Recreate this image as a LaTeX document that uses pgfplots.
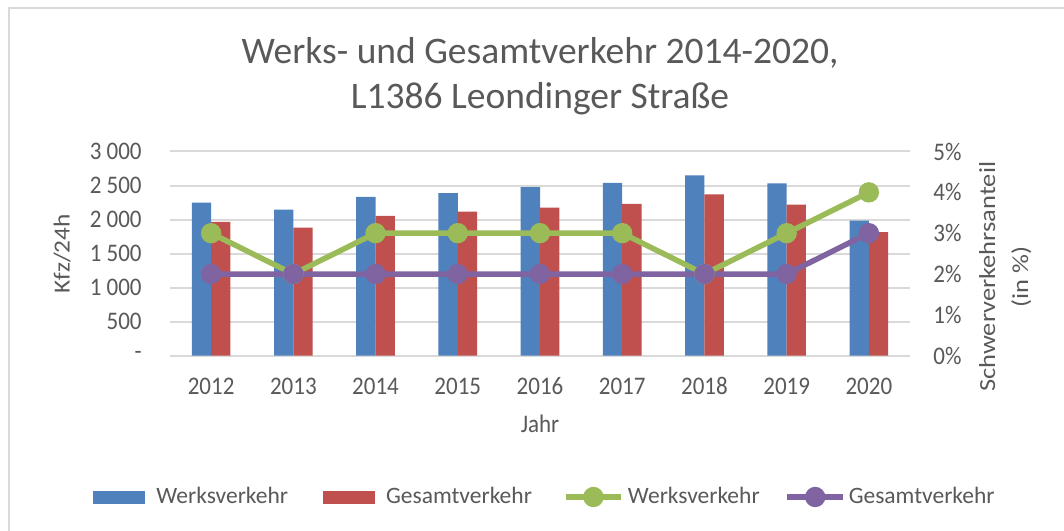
\documentclass[border=0pt]{standalone}
\usepackage{graphicx}
\usepackage{pgfplots}
\usepackage{pgfplotstable}
\pgfplotsset{compat=1.18}
\usepackage{fontspec}
\setmainfont{Carlito}
\definecolor{cblue}{HTML}{4F81BD}
\definecolor{cred}{HTML}{C0504D}
\definecolor{cgreen}{HTML}{9BBB59}
\definecolor{cpurple}{HTML}{8064A2}
\definecolor{cgrid}{HTML}{D9D9D9}
\definecolor{ctext}{HTML}{595959}
\newcommand\vs[1]{\scalebox{1}[1.1]{#1}}
\newcommand\hs[1]{\scalebox{1.1}[1]{#1}}
\pgfplotsset{
  barleg/.style={legend image code/.code={\fill[##1] (0pt,-3.25pt) rectangle (26pt,3.25pt);}},
  lineleg/.style={legend image code/.code={\draw[mark repeat=2, mark phase=2, ##1] plot coordinates {(0pt,0pt) (13.9pt,0pt) (27.8pt,0pt)};}},
}

\pgfplotstableread{
x werk gesamt
0 2250 1965
1 2145 1880
2 2335 2055
3 2390 2115
4 2475 2175
5 2540 2230
6 2650 2370
7 2530 2220
8 1985 1815
}\kfz
\pgfplotstableread{
x werk gesamt
0 3 2
1 2 2
2 3 2
3 3 2
4 3 2
5 3 2
6 2 2
7 3 2
8 4 3
}\anteil

\begin{document}
\begin{tikzpicture}[every node/.style={text=ctext}]
\useasboundingbox (0,0) rectangle (532pt,265pt);
\fill[white] (0,0) rectangle (532pt,265pt);
\draw[cgrid, line width=1pt] (4.5pt,-2pt) -- (4.5pt,261pt) -- (534pt,261pt);
\node[anchor=base, font=\fontsize{18.75}{22}\selectfont] at (270pt,233.35pt) {Werks- und Gesamtverkehr 2014-2020,};
\node[anchor=base, font=\fontsize{18.75}{22}\selectfont] at (270pt,210.5pt) {L1386 Leondinger Straße};
\begin{axis}[
  at={(85pt,87.15pt)}, anchor=south west, scale only axis,
  width=370pt, height=102.1pt,
  xmin=-0.5, xmax=8.5, ymin=0, ymax=3000,
  xtick={0,...,8},
  xticklabels={\vs{2012},\vs{2013},\vs{2014},\vs{2015},\vs{2016},\vs{2017},\vs{2018},\vs{2019},\vs{2020}},
  ytick={0,500,...,3000},
  yticklabels={\vs{-}\hspace{4pt},\vs{500},\vs{1 000},\vs{1 500},\vs{2 000},\vs{2 500},\vs{3 000}},
  ymajorgrids, grid style={cgrid, line width=1pt},
  axis line style={draw=none}, tick style={draw=none}, major tick length=0pt,
  xticklabel shift=0pt, yticklabel shift=0pt,
  tick label style={font=\fontsize{11.5}{13.8}\selectfont, text=ctext},
  xticklabel style={anchor=base, yshift=-19.2pt},
  yticklabel style={anchor=east, inner sep=0pt, xshift=-14pt},
  label style={font=\fontsize{11.5}{13.8}\selectfont, text=ctext},
  xlabel={\vs{Jahr}},
  xlabel style={at={(axis description cs:0.5,-0.3737)}, anchor=base},
  ylabel={\hs{Kfz/24h}},
  ylabel style={at={(axis description cs:-0.1459,0.5)}, anchor=center, rotate=0},
  ybar=0pt, bar width=0.235,
]
\addplot[fill=cblue, draw=none, bar shift=-0.1175] table[x=x,y=werk]{\kfz};
\addplot[fill=cred, draw=none, bar shift=0.1175] table[x=x,y=gesamt]{\kfz};
\end{axis}
\begin{axis}[
  at={(85pt,87.15pt)}, anchor=south west, scale only axis,
  width=370pt, height=102.1pt,
  xmin=-0.5, xmax=8.5, ymin=0, ymax=5,
  hide x axis, axis y line*=right,
  ytick={0,...,5},
  yticklabels={\vs{0\%},\vs{1\%},\vs{2\%},\vs{3\%},\vs{4\%},\vs{5\%}},
  axis line style={draw=none}, tick style={draw=none}, major tick length=0pt,
  yticklabel shift=0pt,
  tick label style={font=\fontsize{11.5}{13.8}\selectfont, text=ctext},
  yticklabel style={anchor=west, inner sep=0pt, xshift=11.5pt},
  ylabel={\scalebox{1.15}[1]{\fontsize{11.5}{16.5}\selectfont\begin{tabular}{@{}c@{}}Schwerverkehrsanteil\\(in \%)\end{tabular}}},
  ylabel style={at={(axis description cs:1.1284,0.386)}, anchor=center, rotate=0, text=ctext},
  legend columns=4,
  legend cell align=left,
  legend style={at={(axis description cs:0.5054,-0.692)}, anchor=center,
    draw=none, fill=none, inner sep=0pt,
    font=\fontsize{11.75}{14}\selectfont, text=ctext,
    nodes={inner sep=0pt},
    /tikz/column 1/.style={column sep=5.5pt},
    /tikz/column 2/.style={column sep=17.5pt},
    /tikz/column 3/.style={column sep=5.5pt},
    /tikz/column 4/.style={column sep=15.5pt},
    /tikz/column 5/.style={column sep=2pt},
    /tikz/column 6/.style={column sep=12.5pt},
    /tikz/column 7/.style={column sep=1.5pt}},
]
\addlegendimage{fill=cblue, draw=none, barleg}
\addlegendentry{Werksverkehr}
\addlegendimage{fill=cred, draw=none, barleg}
\addlegendentry{Gesamtverkehr}
\addplot[color=cgreen, line width=2.75pt, mark=*, mark size=3.7pt,
  mark options={solid, fill=cgreen, draw=none}, lineleg]
  table[x=x,y=werk]{\anteil};
\addlegendentry{Werksverkehr}
\addplot[color=cpurple, line width=2.75pt, mark=*, mark size=3.7pt,
  mark options={solid, fill=cpurple, draw=none}, lineleg]
  table[x=x,y=gesamt]{\anteil};
\addlegendentry{Gesamtverkehr}
\end{axis}
\end{tikzpicture}
\end{document}
